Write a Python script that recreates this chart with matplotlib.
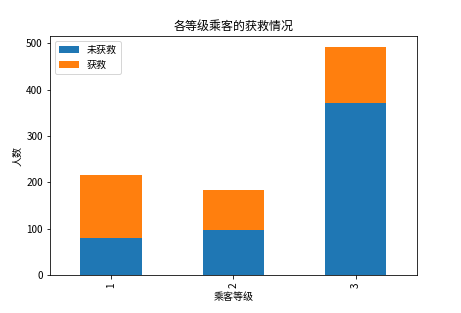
import numpy as np
import matplotlib
matplotlib.use('Agg')
import matplotlib.pyplot as plt

plt.rcParams['font.family'] = ['Noto Sans CJK SC', 'DejaVu Sans']
plt.rcParams['axes.unicode_minus'] = False

pclass = ['1', '2', '3']
not_saved = [80, 97, 372]
saved = [136, 87, 119]

fig = plt.figure(figsize=(461 / 72, 313 / 72), dpi=72)
ax = fig.add_axes([0.108, 0.121, 0.796, 0.764])

x = np.arange(len(pclass))
ax.bar(x, not_saved, width=0.5, color='#1f77b4', label='未获救')
ax.bar(x, saved, width=0.5, bottom=not_saved, color='#ff7f0e', label='获救')
ax.set_xticks(x)
ax.set_xticklabels(pclass, rotation=90)
ax.set_xlim(-0.5, 2.5)
ax.set_title('各等级乘客的获救情况')
ax.set_xlabel('乘客等级')
ax.set_ylabel('人数')
ax.legend(loc='upper left')

fig.savefig('out.png', dpi=72)
